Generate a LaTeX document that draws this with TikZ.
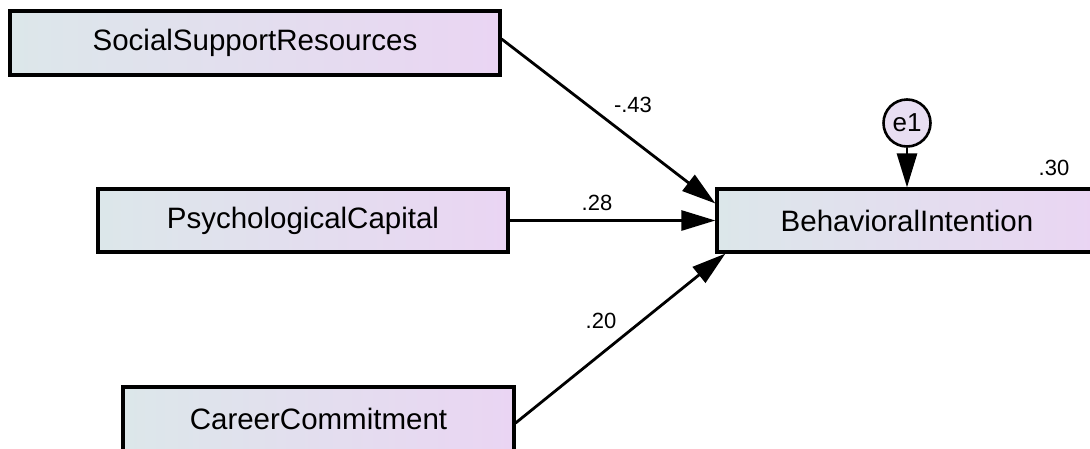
\documentclass[tikz,border=0pt]{standalone}
\usepackage{fontspec}
\setmainfont{Liberation Sans}
\usetikzlibrary{arrows.meta}
\definecolor{gradL}{RGB}{220,231,234}
\definecolor{gradR}{RGB}{234,213,243}
\definecolor{circfill}{RGB}{232,222,242}
\tikzset{
  varbox/.style={draw=black, line width=3.2pt, left color=gradL, right color=gradR, shading angle=90, inner sep=0pt, font=\fontsize{29.5}{33}\selectfont},
  errc/.style={circle, draw=black, line width=2.6pt, fill=circfill, minimum size=47pt, inner sep=0pt, font=\fontsize{26}{30}\selectfont},
  path/.style={line width=2.8pt, -{Triangle[length=34pt,width=20pt]}},
  coef/.style={font=\fontsize{22}{26}\selectfont, inner sep=0pt}
}
\begin{document}
\begin{tikzpicture}[x=1pt,y=-1pt]
\useasboundingbox (0,0) rectangle (1090,448);
\clip (0,0) rectangle (1090,448);
\fill[white] (0,0) rectangle (1090,448);
\node[varbox, minimum width=490pt, minimum height=64pt] (ssr) at (255,43) {SocialSupportResources};
\node[varbox, minimum width=410pt, minimum height=63pt] (pc) at (303,220.5) {PsychologicalCapital};
\node[varbox, minimum width=391pt, minimum height=64pt] (cc) at (318.5,419) {CareerCommitment};
\node[varbox, minimum width=380pt, minimum height=63pt] (bi) at (907,220.5) {BehavioralIntention};
\node[errc] (e1) at (907,123) {e1};
\draw[path] ([yshift=4pt]ssr.east) -- ([yshift=17pt]bi.west);
\draw[path] (pc.east) -- (bi.west);
\draw[path] ([yshift=-4pt]cc.east) -- ([xshift=10pt]bi.south west);
\draw[path] (e1.south) -- (bi.north);
\node[coef] (l1) at (633,105) {-.43};
\node[coef] (l2) at (597,203) {.28};
\node[coef] (l3) at (601,321) {.20};
\node[coef] (l4) at (1054,168) {.30};
\end{tikzpicture}
\end{document}
